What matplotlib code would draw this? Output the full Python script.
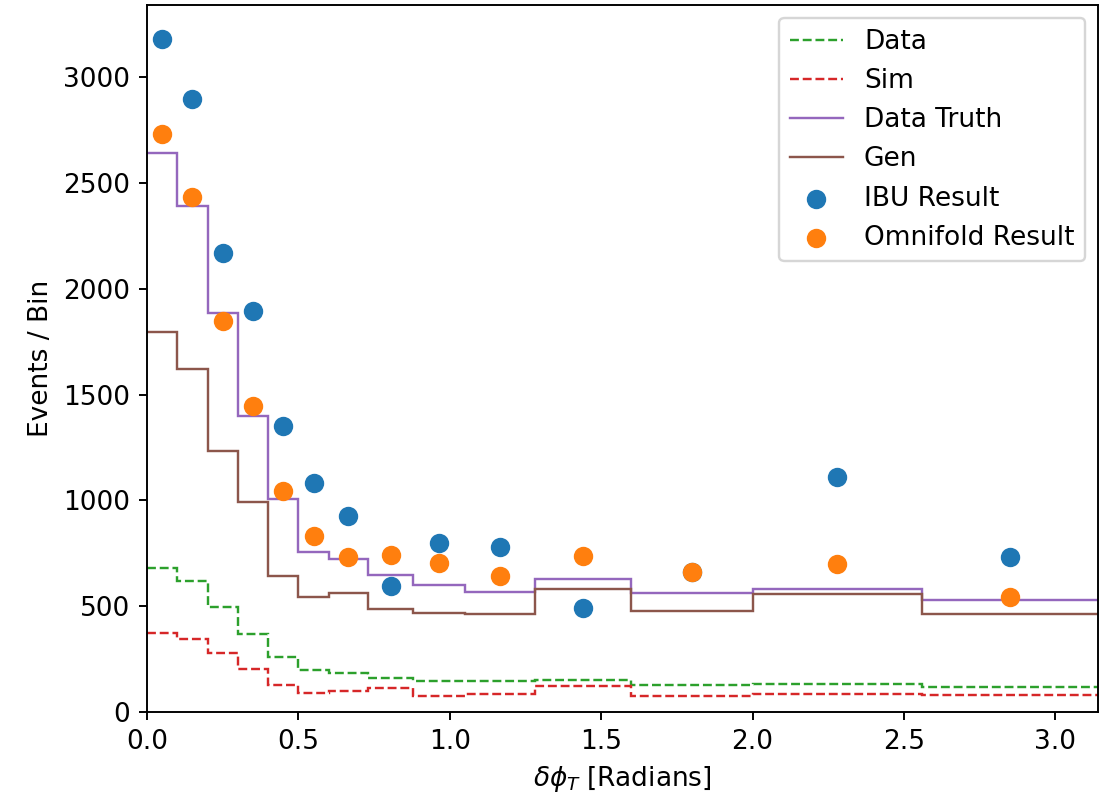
import numpy as np
import matplotlib.pyplot as plt

plt.rcParams['font.size'] = 11

# bin edges in delta phi_T
edges = [0.0, 0.1, 0.2, 0.3, 0.4, 0.5, 0.6, 0.73, 0.88, 1.05, 1.28, 1.6, 2.0, 2.56, np.pi]

data_hist = [679, 620, 495, 367, 260, 198, 183, 162, 146, 146, 151, 126, 132, 117]
sim_hist = [372, 346, 277, 203, 128, 91, 101, 115, 76, 84, 124, 77, 84, 79]
truth_hist = [2641, 2389, 1887, 1400, 1006, 757, 723, 649, 600, 565, 628, 562, 583, 529]
gen_hist = [1797, 1619, 1235, 994, 643, 545, 564, 485, 469, 465, 583, 477, 557, 461]
ibu = [3182, 2896, 2168, 1894, 1353, 1083, 927, 597, 797, 781, 493, 663, 1112, 734]
omnifold = [2731, 2435, 1849, 1444, 1046, 833, 734, 742, 705, 644, 738, 660, 698, 545]

edges = np.array(edges)
centers = 0.5 * (edges[1:] + edges[:-1])

fig = plt.figure(figsize=(6.4, 4.613), dpi=173)
ax = fig.add_axes([0.1328, 0.1078, 0.8591, 0.8859])

ax.stairs(data_hist, edges, baseline=None, color='tab:green', ls='--', label='Data')
ax.stairs(sim_hist, edges, baseline=None, color='tab:red', ls='--', label='Sim')
ax.stairs(truth_hist, edges, baseline=None, color='tab:purple', label='Data Truth')
ax.stairs(gen_hist, edges, baseline=None, color='tab:brown', label='Gen')
ax.scatter(centers, ibu, s=50, color='tab:blue', label='IBU Result', zorder=3)
ax.scatter(centers, omnifold, s=50, color='tab:orange', label='Omnifold Result', zorder=3)

ax.set_xlim(0, np.pi)
ax.set_ylim(0, max(ibu) * 1.05)
ax.set_xlabel(r'$\delta\phi_T$ [Radians]')
ax.set_ylabel('Events / Bin')
ax.legend(loc='upper right')

fig.savefig('out.png', dpi=173)
